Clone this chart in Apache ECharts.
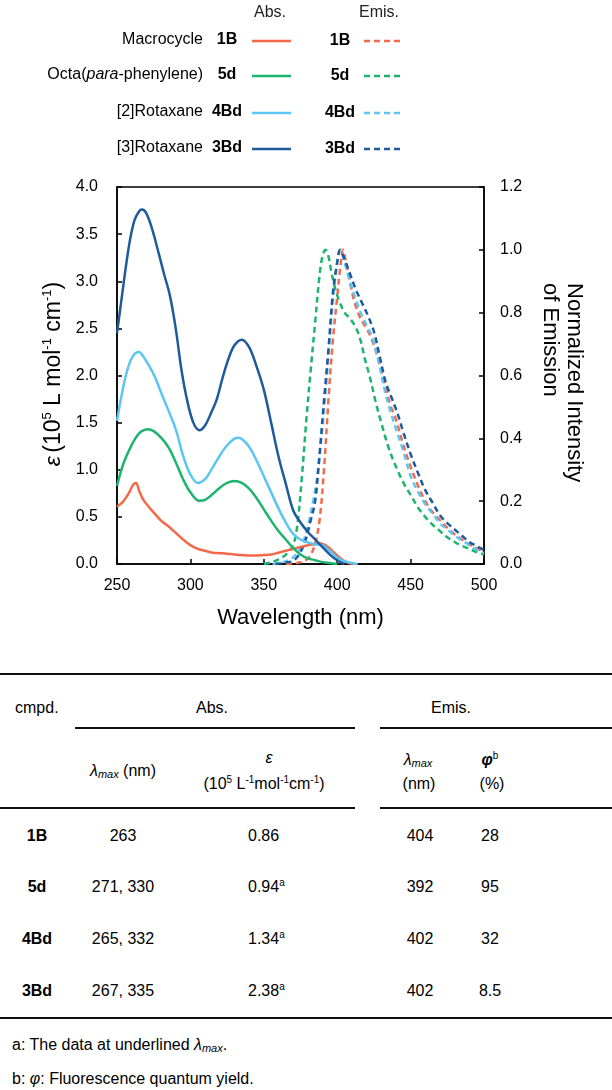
<!DOCTYPE html>
<html>
<head>
<meta charset="utf-8">
<script src="https://cdn.jsdelivr.net/npm/echarts@6/dist/echarts.min.js"></script>
<style>
body{margin:0;background:#fff;font-family:"Liberation Sans",Arial,sans-serif;color:#000;}
#page{position:relative;width:612px;height:1090px;overflow:hidden;background:#fff;}
#spectra{position:absolute;left:0;top:0;width:612px;height:650px;}
.c{position:absolute;transform:translate(-50%,-50%);white-space:nowrap;font-size:16px;line-height:18px;}
.l{position:absolute;transform:translateY(-50%);white-space:nowrap;font-size:16px;line-height:18px;}
.rule{position:absolute;height:2px;background:#111;}
sup{font-size:10px;line-height:0;vertical-align:6px;}
sub{font-size:11px;line-height:0;vertical-align:-2px;}
b{font-weight:bold;}
</style>
</head>
<body>
<div id="page">
	<div id="spectra"></div>
	<div id="table"></div>
</div>
<script>
var FONT = '"Liberation Sans", Arial, sans-serif';

// compounds and colours
var compounds = ['1B', '5d', '4Bd', '3Bd'];
var compoundNames = ['Macrocycle', 'Octa({i|para}-phenylene)', '[2]Rotaxane', '[3]Rotaxane'];
var colors = ['#F36A4B', '#1DB46E', '#5CC6F2', '#1F5B9C'];

// absorption, epsilon (10^5 L mol-1 cm-1)
var abs1B_nm  = [250, 254, 258, 261, 263, 265, 268, 272, 276, 280, 285, 290, 295, 300, 305, 310, 315, 320, 325, 330, 335, 340, 345, 350, 355, 360, 365, 370, 375, 380, 385, 388, 392, 396, 400, 404, 408, 412];
var abs1B_eps = [0.61, 0.66, 0.75, 0.84, 0.86, 0.78, 0.68, 0.60, 0.53, 0.46, 0.40, 0.33, 0.26, 0.20, 0.16, 0.14, 0.12, 0.115, 0.11, 0.10, 0.095, 0.09, 0.09, 0.095, 0.10, 0.12, 0.14, 0.16, 0.18, 0.20, 0.21, 0.22, 0.20, 0.15, 0.09, 0.04, 0.01, 0.0];

var abs5d_nm  = [250, 254, 258, 262, 266, 271, 275, 280, 285, 290, 295, 300, 306, 310, 315, 320, 325, 330, 335, 340, 345, 350, 355, 360, 365, 370, 375, 380, 385, 390, 395, 400];
var abs5d_eps = [0.83, 1.05, 1.20, 1.32, 1.40, 1.43, 1.41, 1.34, 1.24, 1.08, 0.90, 0.76, 0.67, 0.68, 0.74, 0.81, 0.86, 0.88, 0.86, 0.80, 0.70, 0.58, 0.46, 0.35, 0.26, 0.17, 0.10, 0.06, 0.04, 0.02, 0.01, 0.0];

var abs4Bd_nm  = [250, 253, 256, 259, 262, 265, 268, 272, 276, 280, 285, 290, 295, 300, 305, 310, 315, 320, 325, 330, 333, 337, 341, 345, 350, 355, 360, 365, 370, 375, 380, 385, 390, 395, 400, 405, 410, 414];
var abs4Bd_eps = [1.52, 1.78, 2.00, 2.15, 2.23, 2.25, 2.20, 2.10, 1.98, 1.82, 1.63, 1.43, 1.15, 0.95, 0.86, 0.90, 1.02, 1.15, 1.26, 1.33, 1.34, 1.30, 1.22, 1.10, 0.93, 0.76, 0.59, 0.44, 0.32, 0.26, 0.23, 0.21, 0.20, 0.14, 0.07, 0.03, 0.01, 0.0];

var abs3Bd_nm  = [250, 253, 256, 259, 262, 265, 267, 270, 274, 278, 282, 286, 290, 294, 298, 302, 306, 310, 314, 318, 322, 326, 330, 335, 340, 345, 350, 355, 360, 365, 370, 375, 380, 385, 390, 395, 400, 405];
var abs3Bd_eps = [2.45, 2.80, 3.15, 3.45, 3.65, 3.74, 3.76, 3.72, 3.55, 3.32, 3.08, 2.85, 2.50, 2.05, 1.72, 1.50, 1.42, 1.47, 1.60, 1.75, 1.98, 2.18, 2.32, 2.38, 2.30, 2.10, 1.85, 1.50, 1.14, 0.85, 0.57, 0.44, 0.34, 0.26, 0.18, 0.10, 0.04, 0.0];

// emission, normalized intensity
var em1B_nm  = [365, 372, 378, 382, 385, 388, 391, 394, 397, 400, 402, 404, 406, 409, 412, 416, 420, 424, 428, 432, 436, 440, 445, 450, 455, 460, 465, 470, 475, 480, 485, 490, 495, 500];
var em1B_int = [0.0, 0.003, 0.01, 0.03, 0.065, 0.14, 0.30, 0.52, 0.71, 0.85, 0.94, 1.0, 0.96, 0.89, 0.83, 0.78, 0.75, 0.71, 0.65, 0.58, 0.51, 0.46, 0.38, 0.31, 0.25, 0.20, 0.165, 0.14, 0.115, 0.095, 0.078, 0.062, 0.05, 0.04];

var em5d_nm  = [350, 355, 360, 365, 370, 373, 376, 379, 382, 385, 388, 390, 392, 394, 396, 399, 402, 405, 409, 413, 416, 419, 422, 426, 430, 435, 440, 445, 450, 455, 460, 465, 470, 475, 480, 485, 490, 495, 500];
var em5d_int = [0.0, 0.005, 0.015, 0.03, 0.06, 0.13, 0.28, 0.46, 0.62, 0.77, 0.92, 0.98, 1.0, 0.98, 0.93, 0.87, 0.83, 0.80, 0.78, 0.75, 0.71, 0.65, 0.60, 0.52, 0.45, 0.37, 0.31, 0.26, 0.22, 0.18, 0.15, 0.125, 0.105, 0.085, 0.07, 0.058, 0.048, 0.038, 0.03];

var em4Bd_nm  = [356, 362, 368, 372, 376, 380, 384, 387, 390, 393, 396, 399, 402, 405, 408, 412, 416, 420, 424, 428, 432, 436, 440, 445, 450, 455, 460, 465, 470, 475, 480, 485, 490, 495, 500];
var em4Bd_int = [0.0, 0.005, 0.015, 0.03, 0.06, 0.12, 0.21, 0.30, 0.44, 0.60, 0.78, 0.92, 1.0, 0.96, 0.91, 0.85, 0.80, 0.76, 0.72, 0.65, 0.56, 0.49, 0.43, 0.36, 0.28, 0.23, 0.19, 0.16, 0.13, 0.11, 0.09, 0.075, 0.06, 0.045, 0.035];

var em3Bd_nm  = [358, 365, 370, 374, 378, 382, 385, 388, 391, 394, 397, 400, 402, 405, 409, 413, 417, 421, 425, 429, 433, 437, 441, 445, 450, 455, 460, 465, 470, 475, 480, 485, 490, 495, 500];
var em3Bd_int = [0.0, 0.005, 0.01, 0.03, 0.07, 0.14, 0.20, 0.35, 0.52, 0.68, 0.86, 0.96, 1.0, 0.97, 0.92, 0.87, 0.83, 0.79, 0.74, 0.66, 0.58, 0.53, 0.48, 0.42, 0.35, 0.29, 0.235, 0.195, 0.155, 0.13, 0.11, 0.09, 0.07, 0.057, 0.045];

// table values
var tblAbsLambda = ['263', '271, 330', '265, 332', '267, 335'];
var tblEps = ['0.86', '0.94', '1.34', '2.38'];
var tblEpsNote = ['', 'a', 'a', 'a'];
var tblEmLambda = ['404', '392', '402', '402'];
var tblPhi = ['28', '95', '32', '8.5'];

function pairs(xs, ys) {
	var out = [];
	for (var i = 0; i < xs.length; i++) {
		out.push([xs[i], ys[i]]);
	}
	return out;
}

var absSets = [[abs1B_nm, abs1B_eps], [abs5d_nm, abs5d_eps], [abs4Bd_nm, abs4Bd_eps], [abs3Bd_nm, abs3Bd_eps]];
var emSets = [[em1B_nm, em1B_int], [em5d_nm, em5d_int], [em4Bd_nm, em4Bd_int], [em3Bd_nm, em3Bd_int]];

var series = [];
for (var i = 0; i < compounds.length; i++) {
	series.push({
		name : compounds[i] + ' Emis.',
		type : 'line',
		yAxisIndex : 1,
		data : pairs(emSets[i][0], emSets[i][1]),
		smooth : 0.35,
		symbol : 'none',
		lineStyle : { color : colors[i], width : 2.5, type : [6, 4] }
	});
}
for (var i = 0; i < compounds.length; i++) {
	series.push({
		name : compounds[i] + ' Abs.',
		type : 'line',
		yAxisIndex : 0,
		data : pairs(absSets[i][0], absSets[i][1]),
		smooth : 0.35,
		symbol : 'none',
		lineStyle : { color : colors[i], width : 2.5 }
	});
}

// legend drawn by hand: two columns, Abs. and Emis.
var legendRowsY = [40, 75, 112, 148];
var graphics = [
	{ type : 'text', x : 270, y : 13, style : { text : 'Abs.', font : '16px ' + FONT, fill : '#222', align : 'center', verticalAlign : 'middle' } },
	{ type : 'text', x : 379, y : 13, style : { text : 'Emis.', font : '16px ' + FONT, fill : '#222', align : 'center', verticalAlign : 'middle' } }
];
for (var i = 0; i < compounds.length; i++) {
	var yy = legendRowsY[i];
	graphics.push({ type : 'text', x : 203, y : yy, style : {
		text : compoundNames[i], font : '16px ' + FONT, fill : '#000', align : 'right', verticalAlign : 'middle',
		rich : { i : { fontStyle : 'italic', fontSize : 16, fontFamily : FONT } } } });
	graphics.push({ type : 'text', x : 227, y : yy, style : { text : compounds[i], font : 'bold 16px ' + FONT, fill : '#000', align : 'center', verticalAlign : 'middle' } });
	graphics.push({ type : 'line', shape : { x1 : 252, y1 : yy + 1, x2 : 291, y2 : yy + 1 }, style : { stroke : colors[i], lineWidth : 2.5 } });
	graphics.push({ type : 'text', x : 340, y : yy + 1, style : { text : compounds[i], font : 'bold 16px ' + FONT, fill : '#000', align : 'center', verticalAlign : 'middle' } });
	graphics.push({ type : 'line', shape : { x1 : 364, y1 : yy + 1, x2 : 400, y2 : yy + 1 }, style : { stroke : colors[i], lineWidth : 2.5, lineDash : [6, 4] } });
}

// axis titles
graphics.push({ type : 'text', x : 54, y : 374, rotation : Math.PI / 2, style : {
	text : '{e|ε} {n|(10}{s|5}{n| L mol}{s|-1}{n| cm}{s|-1}{n|)}',
	align : 'center', verticalAlign : 'middle', fill : '#000',
	rich : {
		e : { fontFamily : FONT, fontSize : 23, fontStyle : 'italic', lineHeight : 26, verticalAlign : 'middle' },
		n : { fontFamily : FONT, fontSize : 23, lineHeight : 26, verticalAlign : 'middle' },
		s : { fontFamily : FONT, fontSize : 13, lineHeight : 13, verticalAlign : 'top' }
	} } });
graphics.push({ type : 'text', x : 562, y : 283, rotation : -Math.PI / 2, style : {
	text : 'Normalized Intensity\nof Emission', font : '22px ' + FONT, lineHeight : 24,
	align : 'left', verticalAlign : 'middle', fill : '#000' } });

var chart = echarts.init(document.getElementById('spectra'));
chart.setOption({
	animation : false,
	textStyle : { fontFamily : FONT },
	grid : {
		left : 117, right : 128, top : 187, bottom : 86,
		show : true, borderColor : '#000', borderWidth : 1.5
	},
	xAxis : {
		type : 'value', min : 250, max : 500, interval : 50,
		axisLine : { lineStyle : { color : '#000', width : 1.5 } },
		axisTick : { inside : true, length : 5, lineStyle : { color : '#000', width : 1.5 } },
		axisLabel : { color : '#000', fontSize : 16, margin : 14 },
		splitLine : { show : false },
		name : 'Wavelength (nm)', nameLocation : 'middle', nameGap : 43,
		nameTextStyle : { color : '#000', fontSize : 22 }
	},
	yAxis : [ {
		type : 'value', min : 0, max : 4, interval : 0.5, position : 'left',
		axisLine : { show : true, lineStyle : { color : '#000', width : 1.5 } },
		axisTick : { show : true, inside : true, length : 5, lineStyle : { color : '#000', width : 1.5 } },
		axisLabel : { color : '#000', fontSize : 16, margin : 19, formatter : function(v) { return v.toFixed(1); } },
		splitLine : { show : false }
	}, {
		type : 'value', min : 0, max : 1.2, interval : 0.2, position : 'right',
		axisLine : { show : true, lineStyle : { color : '#000', width : 1.5 } },
		axisTick : { show : true, inside : true, length : 5, lineStyle : { color : '#000', width : 1.5 } },
		axisLabel : { color : '#000', fontSize : 16, margin : 16, formatter : function(v) { return v.toFixed(1); } },
		splitLine : { show : false }
	} ],
	graphic : graphics,
	series : series
});

// table below the chart
var tbl = document.getElementById('table');
var html = '';
function cell(cls, x, y, content) {
	html += '<div class="' + cls + '" style="left:' + x + 'px;top:' + y + 'px">' + content + '</div>';
}
function rule(x1, x2, y) {
	html += '<div class="rule" style="left:' + x1 + 'px;width:' + (x2 - x1) + 'px;top:' + (y - 1) + 'px"></div>';
}
rule(0, 612, 674);
cell('l', 15, 708, 'cmpd.');
cell('c', 212, 708, 'Abs.');
cell('c', 451, 708, 'Emis.');
rule(75, 355, 728);
rule(380, 612, 728);
cell('c', 123, 771, '<i>λ<sub>max</sub></i> (nm)');
cell('c', 269, 758, '<i>ε</i>');
cell('c', 264, 784, '(10<sup>5</sup> L<sup>-1</sup>mol<sup>-1</sup>cm<sup>-1</sup>)');
cell('c', 418, 760, '<i>λ<sub>max</sub></i>');
cell('c', 419, 784, '(nm)');
cell('c', 490, 760, '<b><i>φ</i></b><sup>b</sup>');
cell('c', 492, 784, '(%)');
rule(0, 355, 808);
rule(380, 612, 808);
var rowY = [836, 887, 939, 991];
for (var r = 0; r < compounds.length; r++) {
	cell('c', 37, rowY[r], '<b>' + compounds[r] + '</b>');
	cell('c', 123, rowY[r], tblAbsLambda[r]);
	cell('l', 248, rowY[r], tblEps[r] + (tblEpsNote[r] ? '<sup>' + tblEpsNote[r] + '</sup>' : ''));
	cell('c', 420, rowY[r], tblEmLambda[r]);
	cell('c', 490, rowY[r], tblPhi[r]);
}
rule(0, 612, 1018);
cell('l', 12, 1045, 'a: The data at underlined <i>λ<sub>max</sub></i>.');
cell('l', 12, 1079, 'b: <i>φ</i>: Fluorescence quantum yield.');
tbl.innerHTML = html;
</script>
</body>
</html>
